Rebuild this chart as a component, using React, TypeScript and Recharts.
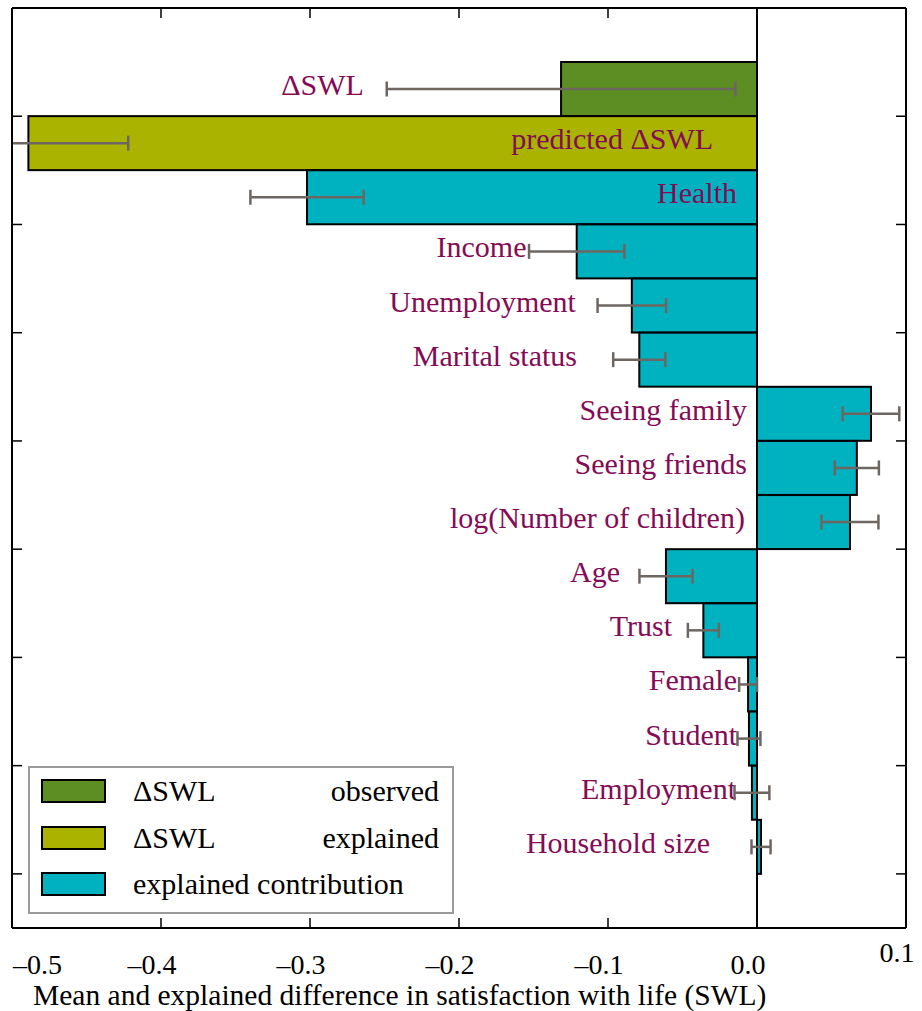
import React from 'react';
import {
  BarChart,
  Bar,
  Cell,
  XAxis,
  YAxis,
  ErrorBar,
  ReferenceLine,
  Legend,
  Label,
} from 'recharts';

const CATEGORIES = [
  'ΔSWL',
  'predicted ΔSWL',
  'Health',
  'Income',
  'Unemployment',
  'Marital status',
  'Seeing family',
  'Seeing friends',
  'log(Number of children)',
  'Age',
  'Trust',
  'Female',
  'Student',
  'Employment',
  'Household size',
];

// which legend entry each bar belongs to
const KINDS = [
  'observed',
  'explained',
  'contribution',
  'contribution',
  'contribution',
  'contribution',
  'contribution',
  'contribution',
  'contribution',
  'contribution',
  'contribution',
  'contribution',
  'contribution',
  'contribution',
  'contribution',
];

const MEANS = [
  -0.1315, -0.489, -0.302, -0.121, -0.084, -0.079, 0.0765, 0.067, 0.0624,
  -0.0611, -0.036, -0.006, -0.0054, -0.0034, 0.0027,
];

const ERRORS = [
  0.117, 0.067, 0.038, 0.032, 0.023, 0.0175, 0.019, 0.0148, 0.0191, 0.0178,
  0.0104, 0.006, 0.0077, 0.0117, 0.0064,
];

// x value (data units) where each bar's text label ends
const LABEL_ENDS = [
  -0.2638, -0.0295, -0.0134, -0.1547, -0.1215, -0.1208, -0.0067, -0.0067,
  -0.0081, -0.0919, -0.057, -0.0134, -0.0134, -0.0141, -0.0315,
];

const X_DOMAIN: [number, number] = [-0.5, 0.1];
const X_TICKS = [-0.5, -0.4, -0.3, -0.2, -0.1, 0, 0.1];
const INNER_X_TICKS = [-0.4, -0.3, -0.2, -0.1, 0];
// frame row scale: 0 at the bottom edge, 17 at the top edge
const ROW_DOMAIN: [number, number] = [0, 17];
const ROW_TICKS = [1, 3, 5, 7, 9, 11, 13, 15];

// inward tick length, in axis units (about 10px)
const TICK_LEN_X = 0.0067;
const TICK_LEN_ROW = 0.185;

const LEGEND_ITEMS = [
  { kind: 'observed', left: 'ΔSWL', right: 'observed' },
  { kind: 'explained', left: 'ΔSWL', right: 'explained' },
  { kind: 'contribution', left: 'explained contribution', right: '' },
];

const KIND_COLORS: Record<string, string> = {
  observed: '#5c8e23',
  explained: '#a9b300',
  contribution: '#00b2bf',
};

const FONT = "'Liberation Serif', 'DejaVu Serif', serif";
const LABEL_COLOR = '#840b55';
const ERR_COLOR = '#6d6661';
const TITLE = 'Mean and explained difference in satisfaction with life (SWL)';

const rows = CATEGORIES.map((name, i) => ({
  name,
  kind: KINDS[i],
  value: MEANS[i],
  err: ERRORS[i],
  labelEnd: LABEL_ENDS[i],
}));

// bar rectangle plus its name, placed through the bar's own pixel scale
const BarWithLabel = (props: any) => {
  const { x, y, width, height, payload, fill } = props;
  const left = Math.min(x, x + width);
  const right = Math.max(x, x + width);
  const v = payload.value;
  const zeroX = v < 0 ? right : left;
  const pxPerUnit = (right - left) / Math.abs(v);
  const labelX = zeroX + payload.labelEnd * pxPerUnit;
  return (
    <g>
      <rect
        x={left}
        y={y}
        width={right - left}
        height={height}
        fill={fill || KIND_COLORS[payload.kind]}
        stroke="#000"
        strokeWidth={2}
      />
      <text
        x={labelX}
        y={y + height / 2 + 6}
        textAnchor="end"
        fontFamily={FONT}
        fontSize={30}
        fill={LABEL_COLOR}
      >
        {payload.name}
      </text>
    </g>
  );
};

const XTick = (props: any) => {
  const { x, y, payload, index } = props;
  const v = payload.value;
  const txt = v === 0 ? '0.0' : (v < 0 ? '–' : '') + Math.abs(v).toFixed(1);
  let anchor: 'middle' | 'start' = 'middle';
  let dx = -9;
  let dy = 46;
  if (index === 0) {
    anchor = 'start';
    dx = 1;
  }
  if (v === 0.1) dy = 34;
  return (
    <g>
      {/* inward tick mark on the bottom edge */}
      {index > 0 && index < X_TICKS.length - 1 && (
        <line x1={x} y1={y} x2={x} y2={y - 10} stroke="#000" strokeWidth={1.5} />
      )}
      <text x={x + dx} y={y + dy} textAnchor={anchor} fontFamily={FONT} fontSize={28} fill="#000">
        {txt}
      </text>
    </g>
  );
};

const NoLabel = () => <g />;

const LegendBox = () => (
  <div
    style={{
      boxSizing: 'border-box',
      width: 426,
      height: 148,
      border: '2px solid #9a9a9a',
      background: '#fff',
      fontFamily: FONT,
      fontSize: 30,
      color: '#000',
    }}
  >
    {LEGEND_ITEMS.map((item) => (
      <div
        key={item.kind}
        style={{ height: 46.5, display: 'flex', alignItems: 'center', paddingRight: 13 }}
      >
        <div
          style={{
            boxSizing: 'border-box',
            width: 65,
            height: 24,
            marginLeft: 11,
            marginRight: 27,
            background: KIND_COLORS[item.kind],
            border: '2px solid #000',
          }}
        />
        <span style={{ flex: 1, lineHeight: 1 }}>{item.left}</span>
        <span style={{ lineHeight: 1 }}>{item.right}</span>
      </div>
    ))}
  </div>
);

const frameLine = { stroke: '#000', strokeWidth: 2 };
const tickStroke = { stroke: '#000', strokeWidth: 1.5 };

export default function App() {
  return (
    <div
      style={{
        position: 'absolute',
        left: 0,
        top: 0,
        width: 922,
        height: 1011,
        background: '#fff',
        // nothing is drawn left of the frame; cut the overflowing whisker
        clipPath: 'inset(0 0 0 11px)',
      }}
    >
      <BarChart
        width={922}
        height={1011}
        data={rows}
        layout="vertical"
        barCategoryGap={0}
        margin={{ top: 8, right: 16, bottom: 0, left: 12 }}
      >
        {/* value axis with labels and bottom tick marks */}
        <XAxis
          xAxisId="val"
          type="number"
          dataKey="value"
          domain={X_DOMAIN}
          allowDataOverflow
          ticks={X_TICKS}
          interval={0}
          tickLine={false}
          tickSize={0}
          tickMargin={0}
          axisLine={frameLine}
          height={83}
          tick={<XTick />}
        >
          <Label
            content={(p: any) => (
              <text
                x={p.viewBox.x + 21}
                y={p.viewBox.y + 77}
                fontFamily={FONT}
                fontSize={29.5}
                fill="#000"
              >
                {TITLE}
              </text>
            )}
          />
        </XAxis>
        {/* top edge of the frame */}
        <XAxis
          xAxisId="top"
          type="number"
          dataKey="value"
          orientation="top"
          mirror
          domain={X_DOMAIN}
          allowDataOverflow
          tick={false}
          tickLine={false}
          axisLine={frameLine}
        />
        <YAxis
          yAxisId="cat"
          type="category"
          dataKey="name"
          hide
          padding={{ top: 54, bottom: 54 }}
        />
        {/* left edge of the frame with inward row ticks */}
        <YAxis
          yAxisId="rows"
          type="number"
          dataKey="value"
          orientation="left"
          mirror
          reversed
          domain={ROW_DOMAIN}
          allowDataOverflow
          ticks={ROW_TICKS}
          interval={0}
          tick={<NoLabel />}
          tickSize={10}
          tickLine={tickStroke}
          axisLine={frameLine}
        />
        {/* right edge of the frame */}
        <YAxis
          yAxisId="right"
          type="number"
          dataKey="value"
          orientation="right"
          mirror
          domain={ROW_DOMAIN}
          allowDataOverflow
          tick={false}
          tickLine={false}
          axisLine={frameLine}
        />
        {/* inward tick marks on the top and right edges */}
        {INNER_X_TICKS.map((t) => (
          <ReferenceLine
            key={`tt-${t}`}
            xAxisId="val"
            yAxisId="rows"
            ifOverflow="visible"
            segment={[
              { x: t, y: ROW_DOMAIN[1] },
              { x: t, y: ROW_DOMAIN[1] - TICK_LEN_ROW },
            ]}
            {...tickStroke}
          />
        ))}
        {ROW_TICKS.map((r) => (
          <ReferenceLine
            key={`rt-${r}`}
            xAxisId="val"
            yAxisId="rows"
            ifOverflow="visible"
            segment={[
              { x: X_DOMAIN[1], y: r },
              { x: X_DOMAIN[1] - TICK_LEN_X, y: r },
            ]}
            {...tickStroke}
          />
        ))}
        <ReferenceLine x={0} xAxisId="val" yAxisId="rows" stroke="#000" strokeWidth={2} />
        <Bar
          dataKey="value"
          xAxisId="val"
          yAxisId="cat"
          isAnimationActive={false}
          shape={<BarWithLabel />}
        >
          {rows.map((r, i) => (
            <Cell key={`cell-${i}`} fill={KIND_COLORS[r.kind]} />
          ))}
          <ErrorBar dataKey="err" direction="x" width={7.5} stroke={ERR_COLOR} strokeWidth={2.5} />
        </Bar>
        <Legend
          layout="vertical"
          align="center"
          verticalAlign="middle"
          content={<LegendBox />}
          wrapperStyle={{ position: 'absolute', left: 28, top: 766, width: 426, height: 148 }}
        />
      </BarChart>
    </div>
  );
}
